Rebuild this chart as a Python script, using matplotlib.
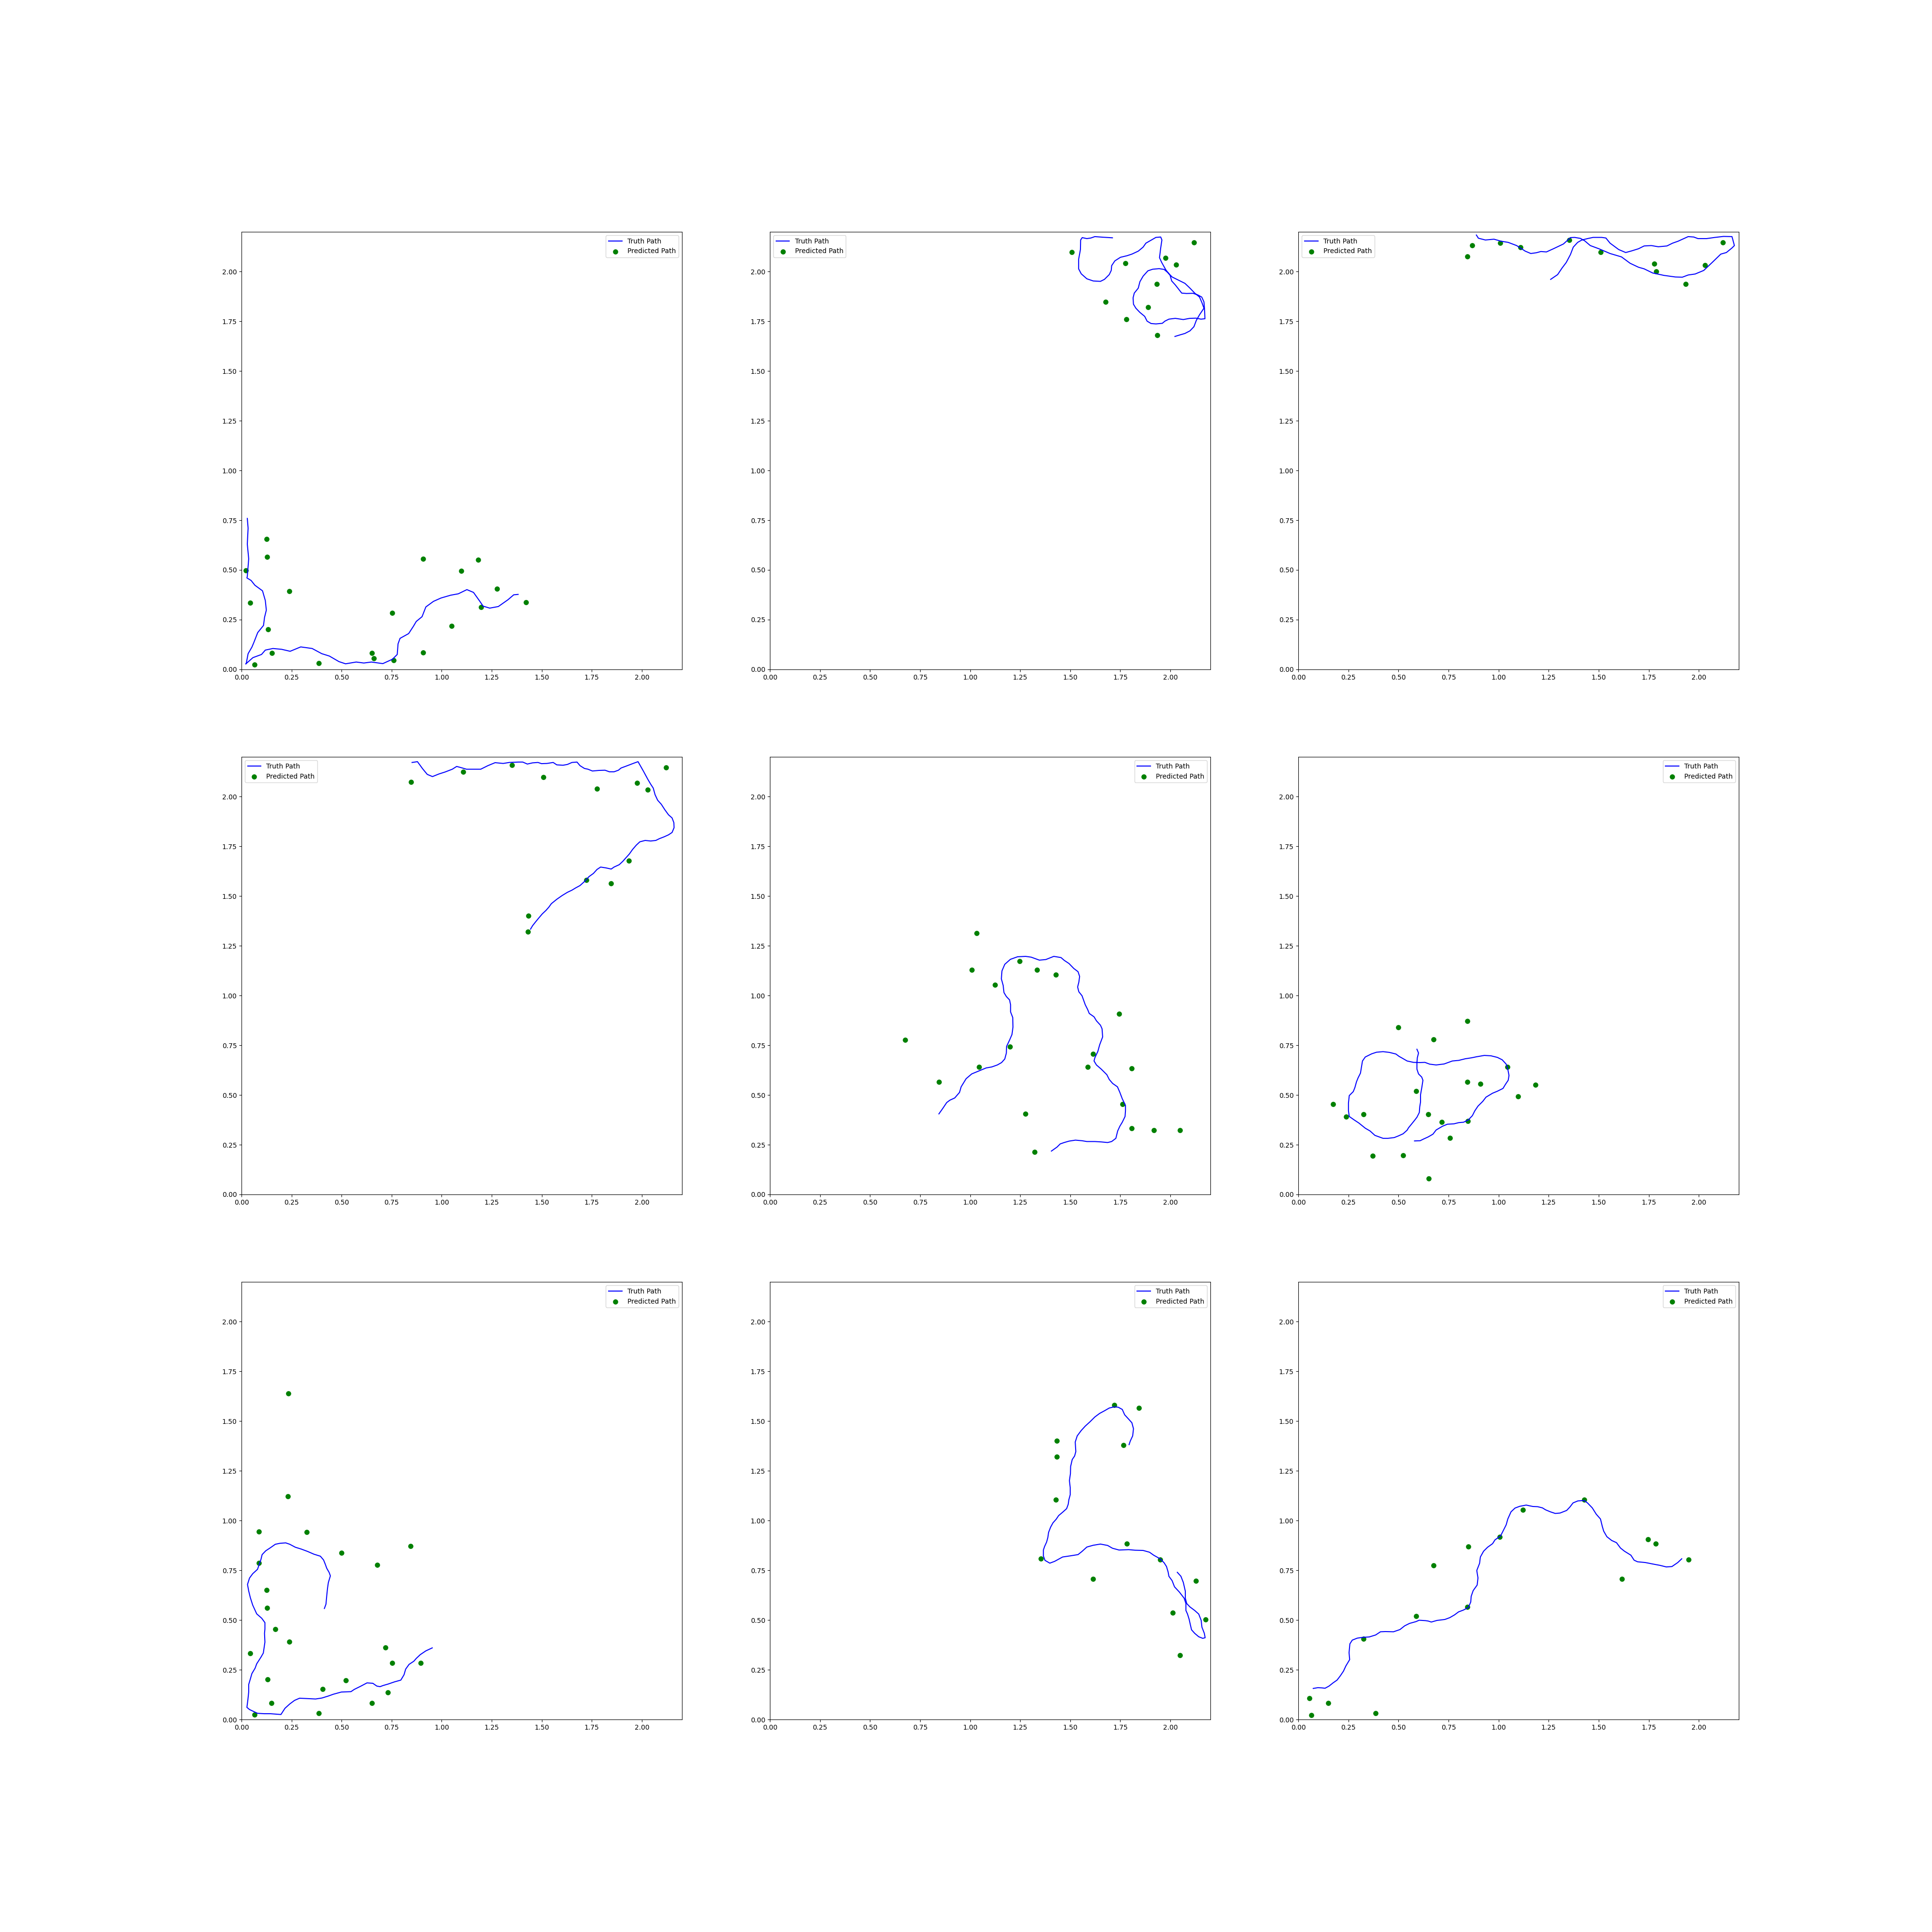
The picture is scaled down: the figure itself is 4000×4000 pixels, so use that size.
import matplotlib
matplotlib.use('Agg')
import matplotlib.pyplot as plt

# ---- truth paths and predicted points, one set per panel (row by row) ----

truth_x_1 = [0.029, 0.033, 0.029, 0.036, 0.029, 0.027, 0.048, 0.067, 0.105, 0.119, 0.124, 0.115, 0.110, 0.081,
             0.062, 0.052, 0.033, 0.024, 0.021, 0.057, 0.100, 0.119, 0.157, 0.200, 0.243, 0.296, 0.353, 0.401,
             0.439, 0.487, 0.520, 0.573, 0.611, 0.649, 0.706, 0.754, 0.778, 0.782, 0.792, 0.835, 0.859, 0.873,
             0.902, 0.921, 0.959, 0.997, 1.045, 1.083, 1.126, 1.159, 1.188, 1.207, 1.240, 1.283, 1.331, 1.360, 1.382]
truth_y_1 = [0.759, 0.710, 0.630, 0.556, 0.468, 0.460, 0.447, 0.423, 0.395, 0.346, 0.298, 0.261, 0.221, 0.185,
             0.136, 0.112, 0.079, 0.031, 0.027, 0.059, 0.075, 0.097, 0.105, 0.101, 0.091, 0.113, 0.105, 0.079,
             0.067, 0.039, 0.028, 0.037, 0.032, 0.037, 0.029, 0.051, 0.075, 0.128, 0.156, 0.180, 0.217, 0.241,
             0.265, 0.314, 0.342, 0.359, 0.373, 0.380, 0.401, 0.387, 0.346, 0.318, 0.308, 0.316, 0.350, 0.375, 0.377]
pred_x_1 = [0.126, 0.129, 0.021, 0.240, 0.044, 0.132, 0.151, 0.065, 0.385, 0.652, 0.662, 0.760, 0.754, 0.908,
            0.908, 1.050, 1.099, 1.183, 1.196, 1.277, 1.422]
pred_y_1 = [0.656, 0.565, 0.498, 0.393, 0.334, 0.201, 0.082, 0.023, 0.031, 0.082, 0.055, 0.045, 0.283, 0.555,
            0.084, 0.219, 0.495, 0.550, 0.312, 0.405, 0.337]

truth_x_2 = [1.711, 1.663, 1.623, 1.603, 1.583, 1.560, 1.552, 1.551, 1.542, 1.542, 1.555, 1.583, 1.615, 1.651,
             1.671, 1.695, 1.705, 1.707, 1.723, 1.751, 1.784, 1.808, 1.840, 1.864, 1.878, 1.904, 1.928, 1.952,
             1.958, 1.952, 1.946, 1.957, 1.977, 1.999, 2.007, 2.025, 2.057, 2.081, 2.113, 2.137, 2.157, 2.168,
             2.171, 2.173, 2.153, 2.129, 2.097, 2.065, 2.025, 1.993, 1.973, 1.960, 1.928, 1.904, 1.884, 1.872,
             1.848, 1.828, 1.816, 1.814, 1.820, 1.840, 1.848, 1.864, 1.888, 1.912, 1.944, 1.969, 1.989, 2.009,
             2.041, 2.073, 2.097, 2.122, 2.146, 2.158, 2.168, 2.146, 2.130, 2.118, 2.098, 2.073, 2.049, 2.023]
truth_y_2 = [2.170, 2.173, 2.176, 2.169, 2.166, 2.171, 2.159, 2.111, 2.062, 2.014, 1.989, 1.964, 1.953, 1.951,
             1.961, 1.985, 2.006, 2.030, 2.054, 2.072, 2.080, 2.088, 2.103, 2.123, 2.143, 2.158, 2.172, 2.174,
             2.159, 2.119, 2.070, 2.046, 2.010, 1.981, 1.953, 1.933, 1.892, 1.890, 1.891, 1.883, 1.872, 1.848,
             1.811, 1.763, 1.761, 1.766, 1.765, 1.759, 1.765, 1.761, 1.751, 1.740, 1.737, 1.739, 1.751, 1.775,
             1.795, 1.816, 1.836, 1.868, 1.892, 1.917, 1.949, 1.977, 2.004, 2.012, 2.015, 2.011, 1.994, 1.973,
             1.957, 1.941, 1.918, 1.892, 1.872, 1.844, 1.816, 1.783, 1.755, 1.723, 1.702, 1.689, 1.682, 1.674]
pred_x_2 = [1.508, 2.119, 1.977, 1.776, 2.030, 1.932, 1.677, 1.889, 1.781, 1.935]
pred_y_2 = [2.097, 2.146, 2.069, 2.041, 2.034, 1.938, 1.847, 1.821, 1.761, 1.680]

truth_x_3 = [0.889, 0.899, 0.934, 0.977, 1.012, 1.048, 1.090, 1.133, 1.161, 1.189, 1.211, 1.239, 1.274, 1.324,
             1.359, 1.380, 1.409, 1.430, 1.458, 1.501, 1.557, 1.614, 1.657, 1.699, 1.727, 1.770, 1.826, 1.883,
             1.918, 1.947, 1.982, 2.025, 2.067, 2.110, 2.138, 2.166, 2.178, 2.166, 2.124, 2.081, 2.039, 1.996,
             1.975, 1.947, 1.897, 1.869, 1.841, 1.798, 1.763, 1.727, 1.699, 1.664, 1.635, 1.600, 1.557, 1.536,
             1.515, 1.472, 1.444, 1.416, 1.395, 1.373, 1.359, 1.338, 1.317, 1.295, 1.260]
truth_y_3 = [2.184, 2.168, 2.159, 2.163, 2.153, 2.147, 2.131, 2.103, 2.091, 2.095, 2.101, 2.099, 2.115, 2.139,
             2.171, 2.172, 2.167, 2.155, 2.131, 2.115, 2.091, 2.074, 2.042, 2.022, 2.014, 1.993, 1.981, 1.973,
             1.972, 1.983, 1.988, 2.006, 2.046, 2.088, 2.096, 2.119, 2.131, 2.176, 2.177, 2.172, 2.166, 2.166,
             2.174, 2.176, 2.153, 2.143, 2.129, 2.125, 2.131, 2.129, 2.115, 2.104, 2.096, 2.111, 2.143, 2.169,
             2.172, 2.172, 2.166, 2.159, 2.147, 2.123, 2.086, 2.046, 2.018, 1.985, 1.961]
pred_x_3 = [0.869, 0.845, 1.009, 1.109, 1.352, 1.509, 1.777, 1.787, 1.934, 2.030, 2.121]
pred_y_3 = [2.133, 2.077, 2.143, 2.123, 2.159, 2.097, 2.040, 2.002, 1.937, 2.033, 2.146]

truth_x_4 = [0.852, 0.879, 0.905, 0.928, 0.954, 0.986, 1.017, 1.053, 1.075, 1.097, 1.124, 1.155, 1.195, 1.231,
             1.267, 1.307, 1.338, 1.383, 1.405, 1.428, 1.454, 1.481, 1.499, 1.526, 1.557, 1.575, 1.606, 1.628,
             1.651, 1.676, 1.691, 1.713, 1.731, 1.753, 1.785, 1.816, 1.838, 1.861, 1.883, 1.896, 1.928, 1.959,
             1.981, 1.990, 2.008, 2.030, 2.044, 2.057, 2.066, 2.079, 2.097, 2.115, 2.133, 2.151, 2.160, 2.161,
             2.151, 2.133, 2.111, 2.088, 2.070, 2.044, 2.017, 1.990, 1.972, 1.954, 1.937, 1.919, 1.905, 1.887,
             1.861, 1.847, 1.820, 1.794, 1.776, 1.758, 1.736, 1.713, 1.691, 1.669, 1.651, 1.628, 1.602, 1.575,
             1.548, 1.535, 1.521, 1.503, 1.486, 1.468, 1.454, 1.444]
truth_y_4 = [2.172, 2.176, 2.140, 2.112, 2.101, 2.114, 2.124, 2.138, 2.152, 2.146, 2.138, 2.138, 2.138, 2.156,
             2.171, 2.167, 2.172, 2.174, 2.174, 2.164, 2.170, 2.172, 2.166, 2.167, 2.172, 2.160, 2.158, 2.162,
             2.172, 2.174, 2.156, 2.142, 2.138, 2.129, 2.132, 2.133, 2.125, 2.125, 2.133, 2.144, 2.156, 2.168,
             2.176, 2.160, 2.128, 2.087, 2.063, 2.043, 2.010, 1.982, 1.962, 1.934, 1.909, 1.893, 1.869, 1.844,
             1.820, 1.808, 1.798, 1.789, 1.780, 1.777, 1.780, 1.773, 1.756, 1.735, 1.711, 1.691, 1.675, 1.658,
             1.646, 1.636, 1.642, 1.646, 1.634, 1.614, 1.598, 1.573, 1.553, 1.541, 1.530, 1.519, 1.503, 1.484,
             1.462, 1.444, 1.428, 1.411, 1.391, 1.369, 1.351, 1.334]
pred_x_4 = [0.846, 1.108, 1.352, 1.509, 1.777, 1.977, 2.030, 2.120, 1.936, 1.722, 1.845, 1.434, 1.431]
pred_y_4 = [2.075, 2.124, 2.160, 2.097, 2.041, 2.068, 2.034, 2.146, 1.678, 1.580, 1.565, 1.402, 1.322]

truth_x_5 = [0.844, 0.863, 0.883, 0.899, 0.923, 0.947, 0.955, 0.980, 1.008, 1.044, 1.080, 1.108, 1.136, 1.157,
             1.173, 1.181, 1.182, 1.197, 1.209, 1.214, 1.213, 1.202, 1.202, 1.197, 1.181, 1.169, 1.165, 1.156,
             1.159, 1.173, 1.201, 1.237, 1.277, 1.305, 1.346, 1.378, 1.418, 1.454, 1.470, 1.494, 1.518, 1.539,
             1.547, 1.543, 1.537, 1.543, 1.559, 1.575, 1.587, 1.595, 1.619, 1.631, 1.651, 1.659, 1.662, 1.647,
             1.638, 1.623, 1.619, 1.631, 1.655, 1.683, 1.695, 1.712, 1.736, 1.748, 1.760, 1.776, 1.776, 1.774,
             1.760, 1.748, 1.737, 1.728, 1.707, 1.687, 1.655, 1.623, 1.583, 1.559, 1.526, 1.494, 1.470, 1.450,
             1.434, 1.406]
truth_y_5 = [0.405, 0.432, 0.462, 0.474, 0.485, 0.513, 0.541, 0.582, 0.606, 0.621, 0.636, 0.641, 0.651, 0.663,
             0.681, 0.711, 0.744, 0.776, 0.804, 0.841, 0.889, 0.918, 0.954, 0.978, 0.995, 1.015, 1.051, 1.084,
             1.124, 1.157, 1.182, 1.195, 1.197, 1.193, 1.178, 1.181, 1.197, 1.191, 1.177, 1.161, 1.136, 1.120,
             1.096, 1.067, 1.043, 1.019, 0.999, 0.954, 0.930, 0.910, 0.893, 0.873, 0.851, 0.833, 0.792, 0.752,
             0.719, 0.687, 0.671, 0.651, 0.630, 0.602, 0.578, 0.558, 0.541, 0.513, 0.481, 0.448, 0.420, 0.392,
             0.363, 0.343, 0.319, 0.282, 0.266, 0.261, 0.264, 0.266, 0.266, 0.270, 0.273, 0.268, 0.261, 0.254,
             0.238, 0.218]
pred_x_5 = [1.033, 1.009, 1.248, 1.333, 1.429, 1.123, 0.676, 1.198, 1.045, 0.845, 1.745, 1.615, 1.588, 1.808,
            1.762, 1.277, 1.808, 1.323, 1.917, 2.049]
pred_y_5 = [1.314, 1.128, 1.172, 1.128, 1.104, 1.053, 0.778, 0.742, 0.642, 0.565, 0.907, 0.706, 0.640, 0.633,
            0.455, 0.405, 0.332, 0.213, 0.322, 0.322]

truth_x_6 = [0.592, 0.600, 0.594, 0.592, 0.592, 0.600, 0.616, 0.622, 0.617, 0.610, 0.610, 0.606, 0.604, 0.592,
             0.579, 0.563, 0.550, 0.543, 0.523, 0.499, 0.479, 0.447, 0.423, 0.382, 0.358, 0.334, 0.302, 0.278,
             0.254, 0.250, 0.250, 0.254, 0.274, 0.282, 0.290, 0.298, 0.310, 0.316, 0.320, 0.334, 0.366, 0.390,
             0.423, 0.455, 0.487, 0.503, 0.519, 0.543, 0.575, 0.608, 0.632, 0.656, 0.688, 0.728, 0.769, 0.801,
             0.833, 0.865, 0.889, 0.929, 0.962, 0.994, 1.018, 1.038, 1.046, 1.052, 1.048, 1.034, 1.022, 0.994,
             0.970, 0.937, 0.921, 0.897, 0.881, 0.869, 0.849, 0.825, 0.801, 0.777, 0.744, 0.720, 0.688, 0.672,
             0.648, 0.624, 0.608, 0.580]
truth_y_6 = [0.730, 0.711, 0.687, 0.663, 0.630, 0.606, 0.590, 0.574, 0.541, 0.501, 0.464, 0.440, 0.412, 0.388,
             0.371, 0.351, 0.335, 0.323, 0.305, 0.294, 0.286, 0.282, 0.282, 0.297, 0.319, 0.333, 0.359, 0.375,
             0.392, 0.420, 0.460, 0.497, 0.517, 0.537, 0.566, 0.586, 0.610, 0.647, 0.671, 0.691, 0.707, 0.715,
             0.718, 0.714, 0.706, 0.694, 0.685, 0.671, 0.664, 0.663, 0.664, 0.655, 0.651, 0.656, 0.671, 0.674,
             0.682, 0.687, 0.692, 0.699, 0.697, 0.689, 0.677, 0.655, 0.630, 0.598, 0.574, 0.553, 0.533, 0.519,
             0.509, 0.489, 0.468, 0.444, 0.420, 0.396, 0.375, 0.363, 0.361, 0.355, 0.353, 0.343, 0.324, 0.303,
             0.289, 0.278, 0.270, 0.269]
pred_x_6 = [0.500, 0.845, 0.676, 1.044, 0.845, 0.908, 1.183, 1.098, 0.589, 0.172, 0.239, 0.326, 0.649, 0.717,
            0.847, 0.756, 0.372, 0.522, 0.652]
pred_y_6 = [0.839, 0.871, 0.779, 0.642, 0.565, 0.555, 0.550, 0.494, 0.519, 0.453, 0.392, 0.404, 0.402, 0.363,
            0.368, 0.283, 0.193, 0.196, 0.081]

truth_x_7 = [0.414, 0.422, 0.426, 0.430, 0.434, 0.444, 0.438, 0.426, 0.418, 0.410, 0.394, 0.362, 0.330, 0.298,
             0.269, 0.241, 0.221, 0.193, 0.169, 0.145, 0.121, 0.103, 0.097, 0.080, 0.056, 0.040, 0.030, 0.036,
             0.044, 0.056, 0.076, 0.101, 0.117, 0.117, 0.115, 0.117, 0.109, 0.097, 0.076, 0.068, 0.052, 0.044,
             0.036, 0.036, 0.032, 0.027, 0.040, 0.080, 0.113, 0.145, 0.197, 0.217, 0.241, 0.265, 0.290, 0.330,
             0.370, 0.402, 0.434, 0.459, 0.499, 0.547, 0.563, 0.595, 0.627, 0.656, 0.676, 0.692, 0.708, 0.732,
             0.764, 0.796, 0.812, 0.820, 0.837, 0.861, 0.873, 0.893, 0.921, 0.953]
truth_y_7 = [0.558, 0.580, 0.624, 0.662, 0.689, 0.722, 0.739, 0.760, 0.782, 0.802, 0.821, 0.831, 0.845, 0.857,
             0.866, 0.881, 0.888, 0.886, 0.881, 0.864, 0.848, 0.829, 0.804, 0.755, 0.733, 0.711, 0.679, 0.646,
             0.613, 0.575, 0.531, 0.509, 0.487, 0.455, 0.433, 0.389, 0.334, 0.313, 0.280, 0.258, 0.231, 0.203,
             0.176, 0.138, 0.100, 0.061, 0.050, 0.031, 0.029, 0.029, 0.025, 0.056, 0.078, 0.096, 0.107, 0.105,
             0.103, 0.108, 0.118, 0.127, 0.138, 0.140, 0.151, 0.167, 0.184, 0.182, 0.168, 0.165, 0.171, 0.178,
             0.189, 0.198, 0.225, 0.253, 0.277, 0.293, 0.307, 0.326, 0.345, 0.360]
pred_x_7 = [0.235, 0.232, 0.088, 0.326, 0.845, 0.500, 0.677, 0.088, 0.126, 0.129, 0.170, 0.240, 0.044, 0.718,
            0.754, 0.894, 0.131, 0.520, 0.406, 0.731, 0.150, 0.652, 0.066, 0.385]
pred_y_7 = [1.639, 1.123, 0.944, 0.942, 0.871, 0.839, 0.776, 0.786, 0.652, 0.562, 0.454, 0.392, 0.332, 0.361,
            0.283, 0.285, 0.201, 0.196, 0.152, 0.136, 0.082, 0.082, 0.024, 0.031]

truth_x_8 = [1.794, 1.800, 1.812, 1.816, 1.808, 1.792, 1.772, 1.760, 1.740, 1.720, 1.695, 1.671, 1.647, 1.623,
             1.599, 1.575, 1.555, 1.535, 1.525, 1.528, 1.522, 1.510, 1.502, 1.501, 1.496, 1.500, 1.500, 1.493,
             1.490, 1.482, 1.462, 1.442, 1.430, 1.414, 1.402, 1.392, 1.388, 1.382, 1.372, 1.366, 1.366, 1.374,
             1.398, 1.422, 1.462, 1.502, 1.539, 1.559, 1.583, 1.615, 1.651, 1.687, 1.711, 1.744, 1.792, 1.824,
             1.864, 1.896, 1.917, 1.949, 1.969, 1.981, 1.989, 1.993, 2.009, 2.021, 2.045, 2.069, 2.078, 2.078,
             2.086, 2.094, 2.100, 2.106, 2.122, 2.142, 2.162, 2.174, 2.170, 2.158, 2.154, 2.142, 2.122, 2.098,
             2.082, 2.075, 2.075, 2.065, 2.053, 2.035]
truth_y_8 = [1.382, 1.400, 1.426, 1.462, 1.492, 1.510, 1.532, 1.559, 1.570, 1.572, 1.566, 1.552, 1.539, 1.521,
             1.497, 1.475, 1.453, 1.426, 1.395, 1.347, 1.325, 1.307, 1.272, 1.236, 1.201, 1.166, 1.130, 1.104,
             1.082, 1.060, 1.042, 1.025, 1.007, 0.989, 0.967, 0.941, 0.914, 0.892, 0.870, 0.852, 0.822, 0.800,
             0.786, 0.795, 0.817, 0.823, 0.829, 0.845, 0.867, 0.876, 0.882, 0.875, 0.861, 0.852, 0.854, 0.851,
             0.850, 0.841, 0.826, 0.808, 0.788, 0.769, 0.742, 0.720, 0.698, 0.667, 0.641, 0.610, 0.583, 0.548,
             0.530, 0.504, 0.477, 0.451, 0.433, 0.416, 0.408, 0.411, 0.433, 0.464, 0.499, 0.530, 0.548, 0.566,
             0.583, 0.610, 0.645, 0.689, 0.720, 0.740]
pred_x_8 = [1.721, 1.844, 1.434, 1.767, 1.432, 1.429, 1.784, 1.354, 1.950, 1.615, 2.127, 2.013, 2.177, 2.049]
pred_y_8 = [1.581, 1.566, 1.402, 1.379, 1.320, 1.104, 0.885, 0.808, 0.803, 0.706, 0.696, 0.536, 0.502, 0.323]

truth_x_9 = [0.074, 0.097, 0.117, 0.133, 0.153, 0.173, 0.193, 0.209, 0.225, 0.237, 0.256, 0.253, 0.257, 0.269,
             0.294, 0.322, 0.354, 0.386, 0.410, 0.434, 0.475, 0.507, 0.531, 0.555, 0.587, 0.603, 0.635, 0.648,
             0.664, 0.692, 0.732, 0.756, 0.780, 0.800, 0.824, 0.849, 0.861, 0.863, 0.873, 0.893, 0.897, 0.891,
             0.905, 0.909, 0.925, 0.945, 0.970, 0.982, 1.010, 1.022, 1.038, 1.046, 1.062, 1.082, 1.106, 1.138,
             1.171, 1.195, 1.219, 1.235, 1.259, 1.283, 1.307, 1.340, 1.356, 1.372, 1.396, 1.428, 1.444, 1.468,
             1.488, 1.509, 1.518, 1.525, 1.541, 1.565, 1.589, 1.609, 1.629, 1.661, 1.677, 1.694, 1.734, 1.774,
             1.806, 1.838, 1.866, 1.895, 1.915]
truth_y_9 = [0.156, 0.160, 0.159, 0.157, 0.168, 0.184, 0.198, 0.219, 0.243, 0.269, 0.301, 0.336, 0.380, 0.399,
             0.409, 0.413, 0.415, 0.425, 0.441, 0.442, 0.441, 0.452, 0.471, 0.483, 0.492, 0.499, 0.497, 0.495,
             0.490, 0.498, 0.503, 0.512, 0.526, 0.541, 0.550, 0.563, 0.591, 0.619, 0.648, 0.676, 0.712, 0.749,
             0.785, 0.817, 0.846, 0.866, 0.884, 0.903, 0.923, 0.947, 0.979, 1.008, 1.044, 1.063, 1.072, 1.078,
             1.071, 1.070, 1.064, 1.054, 1.044, 1.036, 1.038, 1.051, 1.068, 1.089, 1.099, 1.101, 1.089, 1.064,
             1.032, 1.008, 0.971, 0.947, 0.919, 0.900, 0.889, 0.862, 0.846, 0.826, 0.801, 0.793, 0.789, 0.781,
             0.775, 0.767, 0.769, 0.789, 0.808]
pred_x_9 = [0.676, 0.589, 0.844, 0.325, 0.055, 0.150, 0.065, 0.386, 0.849, 1.006, 1.122, 1.428, 1.747, 1.784,
            1.950, 1.615]
pred_y_9 = [0.775, 0.519, 0.565, 0.405, 0.108, 0.082, 0.023, 0.031, 0.870, 0.917, 1.054, 1.105, 0.905, 0.885,
            0.803, 0.706]

truth_xs = [truth_x_1, truth_x_2, truth_x_3, truth_x_4, truth_x_5, truth_x_6, truth_x_7, truth_x_8, truth_x_9]
truth_ys = [truth_y_1, truth_y_2, truth_y_3, truth_y_4, truth_y_5, truth_y_6, truth_y_7, truth_y_8, truth_y_9]
pred_xs = [pred_x_1, pred_x_2, pred_x_3, pred_x_4, pred_x_5, pred_x_6, pred_x_7, pred_x_8, pred_x_9]
pred_ys = [pred_y_1, pred_y_2, pred_y_3, pred_y_4, pred_y_5, pred_y_6, pred_y_7, pred_y_8, pred_y_9]
legend_locs = ['upper right', 'upper left', 'upper left',
               'upper left', 'upper right', 'upper right',
               'upper right', 'upper right', 'upper right']

fig, axes = plt.subplots(3, 3, figsize=(40, 40))

for i, ax in enumerate(axes.flat):
    # truth path as a line, predictions as dots
    ax.plot(truth_xs[i], truth_ys[i], color='blue', label='Truth Path')
    ax.scatter(pred_xs[i], pred_ys[i], s=45, color='green', label='Predicted Path')
    ax.set_xlim(0, 2.2)
    ax.set_ylim(0, 2.2)
    ax.legend(loc=legend_locs[i])

plt.savefig('out.png', dpi=100)
